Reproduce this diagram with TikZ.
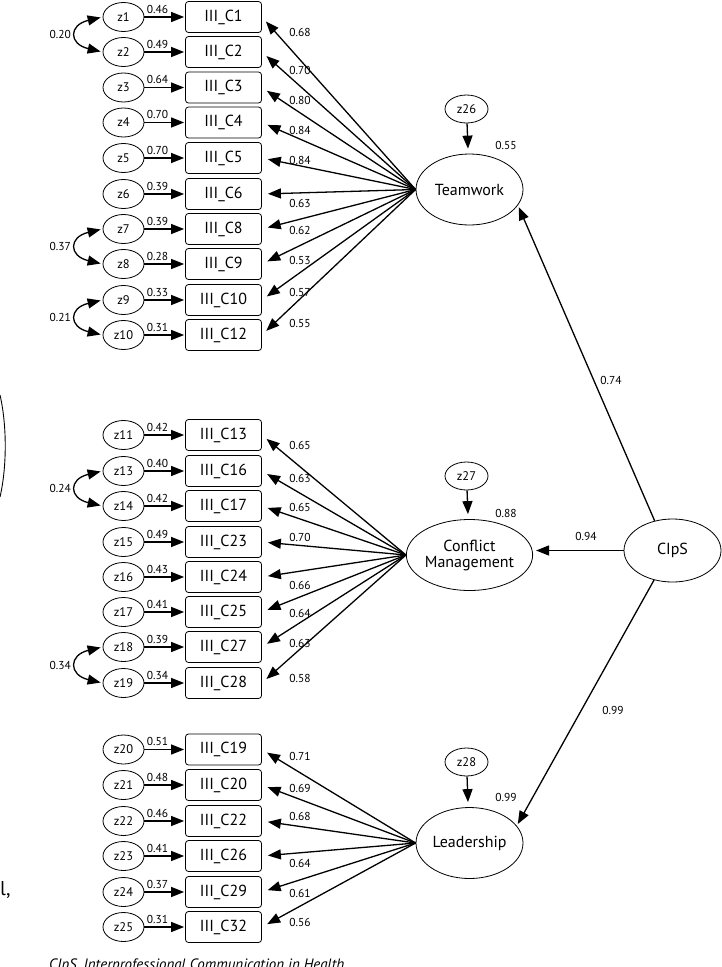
\documentclass[tikz,border=0pt]{standalone}
\usepackage{fontspec}
\setmainfont{PT Sans}
\usetikzlibrary{shapes.geometric,arrows.meta}
\begin{document}
\begin{tikzpicture}[x=1pt,y=-1pt,
  zell/.style={ellipse,draw,line width=0.8pt,minimum width=41pt,minimum height=29pt,inner sep=0pt,font=\fontsize{12.5}{13}\selectfont},
  item/.style={rectangle,rounded corners=3pt,draw,line width=0.8pt,minimum width=76pt,minimum height=31pt,inner sep=0pt,font=\fontsize{16}{17}\selectfont},
  lat/.style={ellipse,draw,line width=0.8pt,minimum width=107pt,minimum height=71pt,inner sep=0pt,font=\fontsize{16}{18}\selectfont,align=center},
  arr/.style={line width=1.3pt,-{Triangle[length=13pt,width=10pt]}},
  cov/.style={line width=1.3pt,{Triangle[length=13pt,width=10pt]}-{Triangle[length=13pt,width=10pt]}},
  num/.style={font=\fontsize{11.5}{12}\selectfont,inner sep=0pt},
]
\useasboundingbox (0,0) rectangle (722,967);
\clip (0,0) rectangle (722,967);

% latent variables
\node[lat] (T) at (469.5,189.5) {Teamwork};
\node[lat] (M) at (469.5,555) {Conflict\\[-2pt]Management};
\node[lat] (L) at (469.5,843) {Leadership};
\node[lat,minimum width=97pt,minimum height=63pt] (C) at (672.5,550.5) {CIpS};

% disturbances
\node[zell,minimum width=43pt,minimum height=28pt] (z26) at (466.5,109) {z26};
\node[zell,minimum width=43pt,minimum height=28pt] (z27) at (466.5,476) {z27};
\node[zell,minimum width=43pt,minimum height=28pt] (z28) at (466.5,762) {z28};
\draw[arr,shorten >=5pt] (z26) -- (T);
\draw[arr,shorten >=5pt] (z27) -- (M);
\draw[arr,shorten >=5pt] (z28) -- (L);
\node[num] (r26) at (506,145) {0.55};
\node[num] (r27) at (506,513) {0.88};
\node[num] (r28) at (506,797) {0.99};

% second order paths
\draw[arr,shorten >=2pt] (C.121) -- (T.-18);
\draw[arr,shorten >=3pt] (C.west) -- (M.east |- C.west);
\draw[arr,shorten >=2pt] (C.-122) -- (L.20);
\node[num] (p1) at (611,380) {0.74};
\node[num] (p2) at (586,536) {0.94};
\node[num] (p3) at (613,710) {0.99};

% indicators
\foreach \n/\it/\y/\zl/\ld/\ly/\lv in {
 1/C1/17/0.46/0.68/32/T,
 2/C2/52/0.49/0.70/70/T,
 3/C3/87.5/0.64/0.80/100/T,
 4/C4/122.5/0.70/0.84/130/T,
 5/C5/158/0.70/0.84/160/T,
 6/C6/194/0.39/0.63/203/T,
 7/C8/229/0.39/0.62/230/T,
 8/C9/264/0.28/0.53/260/T,
 9/C10/300/0.33/0.57/292/T,
 10/C12/335/0.31/0.55/323/T,
 11/C13/435/0.42/0.65/445/M,
 13/C16/471/0.40/0.63/478/M,
 14/C17/506/0.42/0.65/507/M,
 15/C23/542/0.49/0.70/537/M,
 16/C24/577/0.43/0.66/585/M,
 17/C25/612/0.41/0.64/613/M,
 18/C27/647/0.39/0.63/643/M,
 19/C28/683/0.34/0.58/678/M,
 20/C19/749.5/0.51/0.71/756/L,
 21/C20/785/0.48/0.69/788/L,
 22/C22/821/0.46/0.68/816/L,
 23/C26/856/0.41/0.64/863/L,
 24/C29/892/0.37/0.61/893/L,
 25/C32/927/0.31/0.56/922/L}
{
 \node[zell] (z\n) at (123.5,\y) {z\n};
 \node[item] (b\n) at (223.5,\y) {III\_\it};
 \draw[arr,shorten >=1pt] (z\n.east) -- (b\n.west);
 \node[num] (e\n) at (157.5,\y-8) {\zl};
 \draw[arr,shorten >=6pt] (\lv.west) -- (b\n.east);
 \node[num] (l\n) at (300,\ly) {\ld};
}

% covariances
\foreach \a/\b/\v in {1/2/0.20, 7/8/0.37, 9/10/0.21, 13/14/0.24, 18/19/0.34}
{
 \draw[cov,shorten <=2pt,shorten >=2pt] (z\a.west) .. controls +(-34,8) and +(-34,-8) .. (z\b.west) coordinate[pos=0.5] (m\a);
 \node[num,anchor=east] (c\a) at ([xshift=-6pt]m\a) {\v};
}

% cropped remnants at the edges
\draw[line width=0.9pt] (0,395) .. controls (7,425) and (7,467) .. (0,497);
\node[anchor=base west,inner sep=0pt,font=\fontsize{20}{22}\selectfont] (rem) at (0,895) {l,};
\node[anchor=base west,inner sep=0pt,font=\itshape\fontsize{15}{17}\selectfont] (cap) at (49,969) {CIpS, Interprofessional Communication in Health};
\end{tikzpicture}
\end{document}
